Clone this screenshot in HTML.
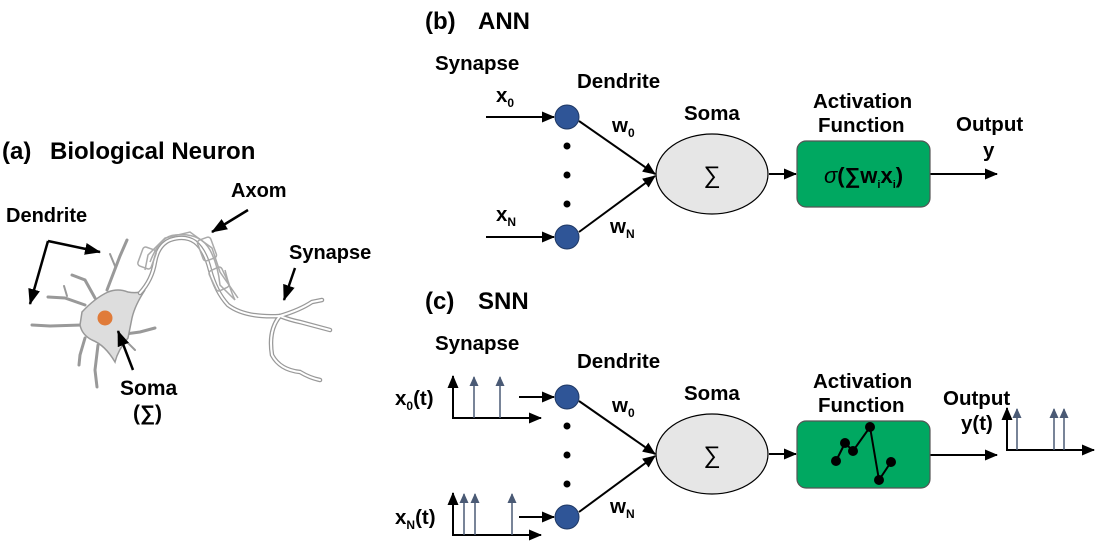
<!DOCTYPE html>
<html><head><meta charset="utf-8"><style>
html,body{margin:0;padding:0;background:#fff;}
svg{display:block;}
text{font-family:"Liberation Sans",sans-serif;font-weight:bold;fill:#000;}
</style></head><body>
<svg width="1100" height="554" viewBox="0 0 1100 554" xmlns="http://www.w3.org/2000/svg">
<defs>
<marker id="a" markerWidth="13" markerHeight="12" refX="12" refY="6" orient="auto" markerUnits="userSpaceOnUse"><path d="M0,0.5 L13,6 L0,11.5 z" fill="#000"/></marker>
<marker id="ab" markerWidth="16" markerHeight="12" refX="15" refY="6" orient="auto" markerUnits="userSpaceOnUse"><path d="M0,0 L16,6 L0,12 z" fill="#000"/></marker>
<marker id="g" markerWidth="10" markerHeight="10" refX="9" refY="5" orient="auto" markerUnits="userSpaceOnUse"><path d="M0,0.5 L10,5 L0,9.5 z" fill="#4a5a75"/></marker>
</defs>

<!-- (a) Biological neuron -->
<text x="2" y="159" font-size="24">(a)</text>
<text x="50" y="159" font-size="24">Biological Neuron</text>
<text x="6" y="222" font-size="20">Dendrite</text>
<text x="231" y="197" font-size="20">Axom</text>
<text x="289" y="259" font-size="20">Synapse</text>
<text x="120" y="395" font-size="21">Soma</text>
<text x="133" y="420" font-size="21">(∑)</text>

<g fill="none" stroke="#999" stroke-linecap="round">
<path d="M107,290 L120,256 L127,240" stroke-width="3"/>
<path d="M115,266 L110,254" stroke-width="2"/>
<path d="M95,298 L85,280 L72,275" stroke-width="3"/>
<path d="M85,305 L65,298 L48,297" stroke-width="3"/>
<path d="M67,296 L64,286" stroke-width="2"/>
<path d="M82,325 L50,326 L32,325" stroke-width="3"/>
<path d="M85,338 L80,355 L79,365" stroke-width="3"/>
<path d="M98,345 L95,370 L97,387" stroke-width="3"/>
<path d="M125,334 L140,332 L155,328" stroke-width="3"/>
<path d="M125,340 L135,350" stroke-width="2"/>
</g>
<path d="M82,312 Q95,298 108,292 Q118,288 128,292 Q138,294 145,290 Q135,305 132,318 Q130,328 128,338 Q118,350 115,362 Q105,345 92,340 Q82,335 80,325 Z" fill="#ddd" stroke="#999" stroke-width="1.5"/>
<circle cx="105" cy="318" r="7.5" fill="#e07b39"/>
<g fill="none" stroke="#999" stroke-width="4.5" stroke-linecap="round">
<path d="M140,293 Q152,280 155,262 Q158,245 170,240 Q185,235 195,242 Q205,250 210,270 Q216,292 228,305 Q245,318 280,316"/>
<path d="M280,316 Q300,310 312,302 L322,300"/>
<path d="M280,316 Q290,320 300,322 L330,330"/>
<path d="M280,316 Q268,330 272,355 Q280,370 300,372 Q310,378 320,380"/>
</g>
<g fill="none" stroke="#fff" stroke-width="2" stroke-linecap="round">
<path d="M140,293 Q152,280 155,262 Q158,245 170,240 Q185,235 195,242 Q205,250 210,270 Q216,292 228,305 Q245,318 280,316"/>
<path d="M280,316 Q300,310 312,302 L322,300"/>
<path d="M280,316 Q290,320 300,322 L330,330"/>
<path d="M280,316 Q268,330 272,355 Q280,370 300,372 Q310,378 320,380"/>
</g>
<g fill="none" stroke="#aaa" stroke-width="1.5">
<path d="M150,262 Q160,236 175,235 Q200,232 210,250 Q218,265 220,285 L235,300 Q230,290 225,270"/>
<path d="M145,270 L148,255 L165,238 L190,232 L212,248 L220,272 L238,298"/>
<rect x="140" y="248" width="14" height="20" rx="3" transform="rotate(20 147 258)"/>
<rect x="200" y="238" width="14" height="22" rx="3" transform="rotate(-20 207 249)"/>
<rect x="212" y="268" width="14" height="22" rx="3" transform="rotate(-25 219 279)"/>
</g>

<g stroke="#000" stroke-width="2.5" fill="none">
<path d="M48,241 L100,252" marker-end="url(#ab)"/>
<path d="M48,241 L30,304" marker-end="url(#ab)"/>
<path d="M248,210 L212,232" marker-end="url(#ab)"/>
<path d="M295,268 L284,300" marker-end="url(#ab)"/>
<path d="M133,370 L118,331" marker-end="url(#ab)"/>
</g>

<!-- (b) ANN -->
<text x="425" y="29" font-size="24">(b)</text>
<text x="478" y="29" font-size="24">ANN</text>
<text x="435" y="70" font-size="20.5">Synapse</text>
<text x="577" y="88" font-size="20.5">Dendrite</text>
<text x="684" y="120" font-size="20.5">Soma</text>
<text x="813" y="108" font-size="20.5">Activation</text>
<text x="818" y="132" font-size="20.5">Function</text>
<text x="956" y="131" font-size="20.5">Output</text>
<text x="983" y="157" font-size="20.5">y</text>
<text x="496" y="102" font-size="20.5">x<tspan font-size="12" dy="5">0</tspan></text>
<text x="496" y="221" font-size="20.5">x<tspan font-size="12" dy="5">N</tspan></text>
<text x="612" y="132" font-size="20.5">w<tspan font-size="12" dy="5">0</tspan></text>
<text x="610" y="233" font-size="20.5">w<tspan font-size="12" dy="5">N</tspan></text>

<g stroke="#000" stroke-width="2" fill="none">
<path d="M486,117 L554,117" marker-end="url(#a)"/>
<path d="M486,237 L554,237" marker-end="url(#a)"/>
<path d="M579,121 L655,174" marker-end="url(#a)"/>
<path d="M579,232 L655,176" marker-end="url(#a)"/>
<path d="M769,174 L796,174" marker-end="url(#a)"/>
<path d="M930,174 L997,174" marker-end="url(#a)"/>
</g>
<circle cx="567" cy="117" r="12" fill="#2f5597" stroke="#1f3864" stroke-width="1"/>
<circle cx="567" cy="237" r="12" fill="#2f5597" stroke="#1f3864" stroke-width="1"/>
<circle cx="567" cy="146" r="3.5" fill="#000"/><circle cx="567" cy="175" r="3.5" fill="#000"/><circle cx="567" cy="204" r="3.5" fill="#000"/>
<ellipse cx="712" cy="174" rx="56" ry="40" fill="#e6e6e6" stroke="#000" stroke-width="1.2"/>
<text x="712" y="183" font-size="24" text-anchor="middle" style="font-weight:normal">∑</text>
<rect x="797" y="141" width="133" height="66" rx="9" fill="#00a861" stroke="#555" stroke-width="1.2"/>
<text x="824" y="183" font-size="22"><tspan font-style="italic" style="font-weight:normal">σ</tspan>(∑w<tspan font-size="11" dy="5">i</tspan><tspan dy="-5">x</tspan><tspan font-size="11" dy="5">i</tspan><tspan dy="-5">)</tspan></text>

<!-- (c) SNN -->
<text x="425" y="309" font-size="24">(c)</text>
<text x="478" y="309" font-size="24">SNN</text>
<text x="435" y="350" font-size="20.5">Synapse</text>
<text x="577" y="368" font-size="20.5">Dendrite</text>
<text x="684" y="400" font-size="20.5">Soma</text>
<text x="813" y="388" font-size="20.5">Activation</text>
<text x="818" y="412" font-size="20.5">Function</text>
<text x="943" y="405" font-size="20.5">Output</text>
<text x="961" y="430" font-size="20.5">y(t)</text>
<text x="395" y="405" font-size="20.5">x<tspan font-size="12" dy="5">0</tspan><tspan dy="-5">(t)</tspan></text>
<text x="395" y="524" font-size="20.5">x<tspan font-size="12" dy="5">N</tspan><tspan dy="-5">(t)</tspan></text>
<text x="612" y="412" font-size="20.5">w<tspan font-size="12" dy="5">0</tspan></text>
<text x="610" y="513" font-size="20.5">w<tspan font-size="12" dy="5">N</tspan></text>

<g stroke="#000" stroke-width="2" fill="none">
<path d="M519,397 L554,397" marker-end="url(#a)"/>
<path d="M519,517 L554,517" marker-end="url(#a)"/>
<path d="M579,401 L655,454" marker-end="url(#a)"/>
<path d="M579,512 L655,456" marker-end="url(#a)"/>
<path d="M769,454 L796,454" marker-end="url(#a)"/>
<path d="M930,455 L997,455" marker-end="url(#a)"/>
<path d="M453,419 L453,376" marker-end="url(#a)"/>
<path d="M452,418 L541,418" marker-end="url(#a)"/>
<path d="M453,536 L453,493" marker-end="url(#a)"/>
<path d="M452,535 L541,535" marker-end="url(#a)"/>
<path d="M1007,451 L1007,408" marker-end="url(#a)"/>
<path d="M1006,450 L1094,450" marker-end="url(#a)"/>
</g>
<g stroke="#4a5a75" stroke-width="1.5">
<path d="M474,418 L474,377" marker-end="url(#g)"/>
<path d="M500,418 L500,377" marker-end="url(#g)"/>
<path d="M464,535 L464,494" marker-end="url(#g)"/>
<path d="M475,535 L475,494" marker-end="url(#g)"/>
<path d="M512,535 L512,494" marker-end="url(#g)"/>
<path d="M1017,450 L1017,409" marker-end="url(#g)"/>
<path d="M1054,450 L1054,409" marker-end="url(#g)"/>
<path d="M1064,450 L1064,409" marker-end="url(#g)"/>
</g>
<circle cx="567" cy="397" r="12" fill="#2f5597" stroke="#1f3864" stroke-width="1"/>
<circle cx="567" cy="517" r="12" fill="#2f5597" stroke="#1f3864" stroke-width="1"/>
<circle cx="567" cy="426" r="3.5" fill="#000"/><circle cx="567" cy="455" r="3.5" fill="#000"/><circle cx="567" cy="484" r="3.5" fill="#000"/>
<ellipse cx="712" cy="454" rx="56" ry="40" fill="#e6e6e6" stroke="#000" stroke-width="1.2"/>
<text x="712" y="463" font-size="24" text-anchor="middle" style="font-weight:normal">∑</text>
<rect x="797" y="421" width="133" height="67" rx="9" fill="#00a861" stroke="#555" stroke-width="1.2"/>
<path d="M836,461 L845,443 L853,451 L870,427 L879,480 L891,462" fill="none" stroke="#000" stroke-width="2"/>
<g fill="#000"><circle cx="836" cy="461" r="5"/><circle cx="845" cy="443" r="5"/><circle cx="853" cy="451" r="5"/><circle cx="870" cy="427" r="5"/><circle cx="879" cy="480" r="5"/><circle cx="891" cy="462" r="5"/></g>
</svg>
</body></html>
